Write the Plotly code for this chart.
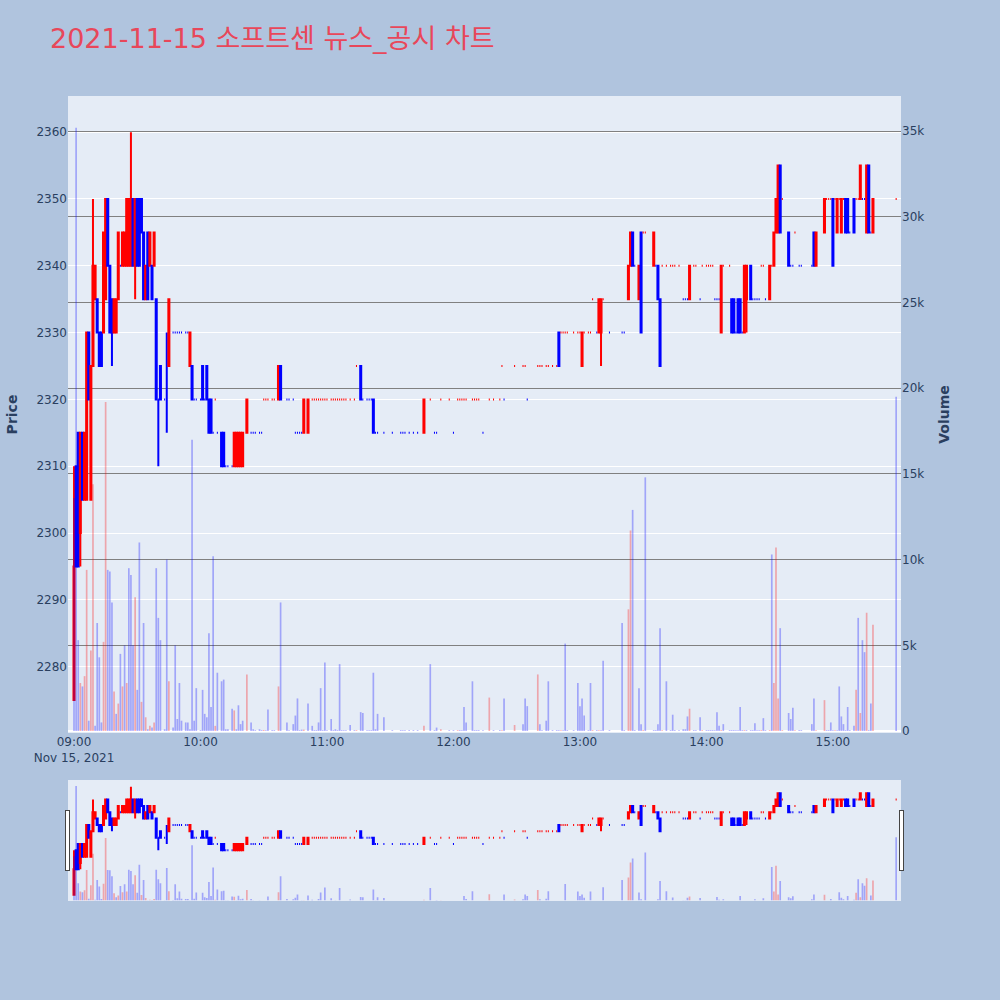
import plotly.graph_objects as go
from plotly.subplots import make_subplots

DAY = "2021-11-15"

# one-minute bars for the session (minutes without trades are omitted)
times = [
    "09:00", "09:01", "09:02", "09:03", "09:04", "09:05", "09:06", "09:07", "09:08", "09:09",
    "09:10", "09:11", "09:12", "09:13", "09:14", "09:15", "09:16", "09:17", "09:18", "09:19",
    "09:20", "09:21", "09:22", "09:23", "09:24", "09:25", "09:26", "09:27", "09:28", "09:29",
    "09:30", "09:31", "09:32", "09:33", "09:34", "09:35", "09:36", "09:37", "09:38", "09:39",
    "09:40", "09:41", "09:43", "09:44", "09:45", "09:47", "09:48", "09:49", "09:50", "09:51",
    "09:53", "09:54", "09:55", "09:56", "09:57", "09:58", "10:00", "10:01", "10:02", "10:03",
    "10:04", "10:05", "10:06", "10:07", "10:08", "10:10", "10:11", "10:12", "10:13", "10:15",
    "10:16", "10:17", "10:18", "10:19", "10:20", "10:22", "10:24", "10:25", "10:26", "10:28",
    "10:29", "10:30", "10:31", "10:32", "10:34", "10:35", "10:37", "10:38", "10:41", "10:42",
    "10:44", "10:45", "10:46", "10:47", "10:48", "10:49", "10:51", "10:53", "10:54", "10:55",
    "10:56", "10:57", "10:58", "10:59", "11:00", "11:02", "11:03", "11:04", "11:05", "11:06",
    "11:07", "11:08", "11:09", "11:11", "11:13", "11:14", "11:16", "11:17", "11:19", "11:20",
    "11:21", "11:22", "11:23", "11:24", "11:27", "11:31", "11:35", "11:36", "11:37", "11:39",
    "11:41", "11:43", "11:46", "11:49", "11:51", "11:52", "11:54", "11:58", "12:00", "12:02",
    "12:03", "12:04", "12:05", "12:06", "12:09", "12:10", "12:11", "12:12", "12:14", "12:17",
    "12:19", "12:22", "12:23", "12:24", "12:29", "12:33", "12:34", "12:35", "12:40", "12:41",
    "12:42", "12:44", "12:45", "12:47", "12:49", "12:50", "12:51", "12:52", "12:53", "12:54",
    "12:57", "12:59", "13:00", "13:01", "13:02", "13:04", "13:05", "13:06", "13:08", "13:09",
    "13:10", "13:11", "13:14", "13:20", "13:21", "13:23", "13:24", "13:25", "13:26", "13:28",
    "13:29", "13:30", "13:31", "13:35", "13:36", "13:37", "13:38", "13:39", "13:41", "13:43",
    "13:44", "13:45", "13:47", "13:49", "13:50", "13:51", "13:52", "13:54", "13:55", "13:57",
    "13:58", "14:00", "14:01", "14:02", "14:03", "14:04", "14:05", "14:06", "14:07", "14:08",
    "14:11", "14:12", "14:13", "14:14", "14:15", "14:16", "14:17", "14:18", "14:19", "14:21",
    "14:22", "14:23", "14:24", "14:25", "14:26", "14:27", "14:28", "14:30", "14:31", "14:32",
    "14:33", "14:34", "14:35", "14:36", "14:39", "14:40", "14:41", "14:42", "14:44", "14:45",
    "14:50", "14:51", "14:52", "14:56", "14:57", "14:58", "14:59", "15:00", "15:01", "15:02",
    "15:03", "15:04", "15:05", "15:06", "15:07", "15:08", "15:10", "15:11", "15:12", "15:13",
    "15:14", "15:15", "15:16", "15:17", "15:18", "15:19", "15:30",
]

opens = [
    2275, 2310, 2315, 2300, 2315, 2305, 2305, 2330, 2305, 2325,
    2335, 2335, 2330, 2330, 2330, 2335, 2350, 2340, 2335, 2330,
    2330, 2335, 2340, 2340, 2340, 2340, 2340, 2340, 2350, 2340,
    2350, 2350, 2350, 2345, 2335, 2345, 2340, 2340, 2340, 2335,
    2320, 2325, 2320, 2320, 2325, 2330, 2330, 2330, 2330, 2330,
    2330, 2330, 2325, 2325, 2320, 2320, 2320, 2325, 2320, 2325,
    2320, 2320, 2315, 2320, 2315, 2315, 2315, 2310, 2310, 2310,
    2310, 2310, 2310, 2310, 2310, 2315, 2315, 2315, 2315, 2315,
    2315, 2320, 2320, 2320, 2320, 2320, 2320, 2325, 2320, 2320,
    2320, 2315, 2315, 2315, 2315, 2315, 2315, 2320, 2320, 2320,
    2320, 2320, 2320, 2320, 2320, 2320, 2320, 2320, 2320, 2320,
    2320, 2320, 2320, 2320, 2320, 2325, 2325, 2320, 2320, 2320,
    2320, 2320, 2315, 2315, 2315, 2315, 2315, 2315, 2315, 2315,
    2315, 2315, 2315, 2320, 2315, 2315, 2320, 2320, 2315, 2320,
    2320, 2320, 2320, 2320, 2320, 2320, 2320, 2320, 2315, 2320,
    2320, 2320, 2325, 2320, 2325, 2325, 2325, 2320, 2325, 2325,
    2325, 2325, 2325, 2325, 2325, 2330, 2330, 2330, 2330, 2330,
    2330, 2330, 2330, 2325, 2330, 2330, 2330, 2335, 2330, 2330,
    2330, 2335, 2330, 2330, 2330, 2335, 2340, 2345, 2340, 2335,
    2345, 2345, 2345, 2340, 2340, 2340, 2335, 2340, 2340, 2340,
    2340, 2340, 2340, 2335, 2335, 2335, 2335, 2340, 2340, 2335,
    2340, 2340, 2340, 2340, 2340, 2335, 2335, 2335, 2330, 2340,
    2340, 2335, 2335, 2330, 2335, 2335, 2330, 2330, 2335, 2340,
    2335, 2335, 2335, 2335, 2340, 2340, 2335, 2335, 2340, 2340,
    2345, 2345, 2355, 2350, 2345, 2340, 2340, 2345, 2340, 2340,
    2340, 2345, 2340, 2345, 2350, 2350, 2350, 2350, 2350, 2345,
    2350, 2345, 2350, 2350, 2350, 2345, 2350, 2350, 2350, 2350,
    2350, 2350, 2345, 2355, 2345, 2345, 2350,
]

highs = [
    2310, 2310, 2315, 2315, 2315, 2315, 2330, 2330, 2325, 2350,
    2340, 2335, 2330, 2330, 2345, 2350, 2350, 2340, 2335, 2335,
    2335, 2345, 2340, 2345, 2345, 2350, 2350, 2360, 2350, 2350,
    2350, 2350, 2350, 2345, 2340, 2345, 2345, 2340, 2345, 2335,
    2320, 2325, 2320, 2330, 2335, 2330, 2330, 2330, 2330, 2330,
    2330, 2330, 2330, 2325, 2320, 2320, 2320, 2325, 2320, 2325,
    2320, 2320, 2315, 2320, 2315, 2315, 2315, 2310, 2310, 2310,
    2315, 2315, 2315, 2315, 2315, 2320, 2315, 2315, 2315, 2315,
    2315, 2320, 2320, 2320, 2320, 2320, 2325, 2325, 2320, 2320,
    2320, 2315, 2315, 2315, 2315, 2320, 2320, 2320, 2320, 2320,
    2320, 2320, 2320, 2320, 2320, 2320, 2320, 2320, 2320, 2320,
    2320, 2320, 2320, 2320, 2320, 2325, 2325, 2320, 2320, 2320,
    2320, 2320, 2315, 2315, 2315, 2315, 2315, 2315, 2315, 2315,
    2315, 2315, 2320, 2320, 2315, 2315, 2320, 2320, 2315, 2320,
    2320, 2320, 2320, 2320, 2320, 2320, 2320, 2320, 2315, 2320,
    2320, 2320, 2325, 2320, 2325, 2325, 2325, 2320, 2325, 2325,
    2325, 2325, 2325, 2325, 2325, 2330, 2330, 2330, 2330, 2330,
    2330, 2330, 2330, 2330, 2330, 2330, 2330, 2335, 2330, 2335,
    2335, 2335, 2330, 2330, 2330, 2340, 2345, 2345, 2340, 2340,
    2345, 2345, 2345, 2345, 2340, 2340, 2335, 2340, 2340, 2340,
    2340, 2340, 2340, 2335, 2335, 2335, 2340, 2340, 2340, 2335,
    2340, 2340, 2340, 2340, 2340, 2335, 2335, 2335, 2340, 2340,
    2340, 2335, 2335, 2330, 2335, 2335, 2330, 2340, 2340, 2340,
    2335, 2335, 2335, 2335, 2340, 2340, 2335, 2340, 2340, 2345,
    2350, 2355, 2355, 2350, 2345, 2340, 2340, 2345, 2340, 2340,
    2340, 2345, 2345, 2350, 2350, 2350, 2350, 2350, 2350, 2350,
    2350, 2350, 2350, 2350, 2350, 2345, 2350, 2350, 2350, 2355,
    2350, 2350, 2355, 2355, 2345, 2350, 2350,
]

lows = [
    2275, 2295, 2295, 2295, 2305, 2305, 2305, 2320, 2305, 2325,
    2335, 2330, 2325, 2325, 2330, 2335, 2340, 2330, 2325, 2330,
    2330, 2335, 2340, 2340, 2340, 2340, 2340, 2340, 2340, 2335,
    2340, 2340, 2345, 2335, 2335, 2335, 2340, 2335, 2340, 2320,
    2310, 2320, 2320, 2315, 2325, 2330, 2330, 2330, 2330, 2330,
    2330, 2330, 2325, 2320, 2320, 2320, 2320, 2320, 2320, 2320,
    2315, 2315, 2315, 2320, 2315, 2310, 2310, 2310, 2310, 2310,
    2310, 2310, 2310, 2310, 2310, 2315, 2315, 2315, 2315, 2315,
    2315, 2320, 2320, 2320, 2320, 2320, 2320, 2320, 2320, 2320,
    2320, 2315, 2315, 2315, 2315, 2315, 2315, 2320, 2320, 2320,
    2320, 2320, 2320, 2320, 2320, 2320, 2320, 2320, 2320, 2320,
    2320, 2320, 2320, 2320, 2320, 2325, 2320, 2320, 2320, 2320,
    2320, 2315, 2315, 2315, 2315, 2315, 2315, 2315, 2315, 2315,
    2315, 2315, 2315, 2320, 2315, 2315, 2320, 2320, 2315, 2320,
    2320, 2320, 2320, 2320, 2320, 2320, 2320, 2320, 2315, 2320,
    2320, 2320, 2325, 2320, 2325, 2325, 2325, 2320, 2325, 2325,
    2325, 2325, 2325, 2325, 2325, 2325, 2330, 2330, 2330, 2330,
    2330, 2330, 2330, 2325, 2330, 2330, 2330, 2335, 2330, 2330,
    2325, 2335, 2330, 2330, 2330, 2335, 2340, 2340, 2340, 2335,
    2330, 2345, 2345, 2340, 2340, 2335, 2325, 2340, 2340, 2340,
    2340, 2340, 2340, 2335, 2335, 2335, 2335, 2340, 2340, 2335,
    2340, 2340, 2340, 2340, 2340, 2335, 2335, 2335, 2330, 2340,
    2340, 2330, 2330, 2330, 2330, 2330, 2330, 2330, 2330, 2335,
    2335, 2335, 2335, 2335, 2340, 2340, 2335, 2335, 2340, 2340,
    2345, 2345, 2345, 2350, 2340, 2340, 2340, 2345, 2340, 2340,
    2340, 2340, 2340, 2345, 2350, 2350, 2350, 2340, 2350, 2345,
    2350, 2345, 2350, 2345, 2345, 2345, 2345, 2350, 2350, 2350,
    2350, 2350, 2345, 2345, 2345, 2345, 2350,
]

closes = [
    2295, 2295, 2295, 2315, 2305, 2315, 2330, 2320, 2325, 2340,
    2340, 2330, 2325, 2325, 2345, 2350, 2340, 2330, 2330, 2335,
    2335, 2345, 2340, 2345, 2345, 2350, 2350, 2350, 2340, 2350,
    2340, 2340, 2345, 2335, 2340, 2335, 2345, 2335, 2345, 2320,
    2320, 2320, 2320, 2320, 2335, 2330, 2330, 2330, 2330, 2330,
    2330, 2330, 2330, 2320, 2320, 2320, 2320, 2320, 2320, 2320,
    2315, 2315, 2315, 2320, 2315, 2310, 2310, 2310, 2310, 2310,
    2315, 2315, 2315, 2315, 2315, 2320, 2315, 2315, 2315, 2315,
    2315, 2320, 2320, 2320, 2320, 2320, 2325, 2320, 2320, 2320,
    2320, 2315, 2315, 2315, 2315, 2320, 2320, 2320, 2320, 2320,
    2320, 2320, 2320, 2320, 2320, 2320, 2320, 2320, 2320, 2320,
    2320, 2320, 2320, 2320, 2320, 2325, 2320, 2320, 2320, 2320,
    2320, 2315, 2315, 2315, 2315, 2315, 2315, 2315, 2315, 2315,
    2315, 2315, 2320, 2320, 2315, 2315, 2320, 2320, 2315, 2320,
    2320, 2320, 2320, 2320, 2320, 2320, 2320, 2320, 2315, 2320,
    2320, 2320, 2325, 2320, 2325, 2325, 2325, 2320, 2325, 2325,
    2325, 2325, 2325, 2325, 2325, 2325, 2330, 2330, 2330, 2330,
    2330, 2330, 2330, 2330, 2330, 2330, 2330, 2335, 2330, 2335,
    2335, 2335, 2330, 2330, 2330, 2340, 2345, 2340, 2340, 2340,
    2330, 2345, 2345, 2345, 2340, 2335, 2325, 2340, 2340, 2340,
    2340, 2340, 2340, 2335, 2335, 2335, 2340, 2340, 2340, 2335,
    2340, 2340, 2340, 2340, 2340, 2335, 2335, 2335, 2340, 2340,
    2340, 2330, 2330, 2330, 2330, 2330, 2330, 2340, 2340, 2335,
    2335, 2335, 2335, 2335, 2340, 2340, 2335, 2340, 2340, 2345,
    2350, 2355, 2345, 2350, 2340, 2340, 2340, 2345, 2340, 2340,
    2340, 2340, 2345, 2350, 2350, 2350, 2350, 2340, 2350, 2350,
    2350, 2350, 2350, 2345, 2345, 2345, 2345, 2350, 2350, 2355,
    2350, 2350, 2355, 2345, 2345, 2350, 2350,
]

volumes = [
    13600, 35200, 5300, 2800, 2600, 3200, 9400, 600, 4700, 14400,
    300, 6300, 4300, 500, 5200, 19200, 9400, 9300, 7500, 2300,
    1000, 1600, 4500, 2600, 5000, 2800, 9500, 9100, 5000, 7800,
    2400, 11000, 1700, 6300, 800, 100, 300, 200, 500, 9500,
    6600, 5300, 100, 10000, 2900, 200, 5000, 700, 2800, 600,
    500, 500, 100, 17000, 600, 2500, 50, 2400, 1000, 800,
    5700, 1400, 10200, 300, 3400, 2900, 3000, 100, 100, 1300,
    1200, 100, 1500, 400, 600, 3300, 500, 100, 50, 100,
    50, 60, 50, 1250, 50, 50, 2600, 7500, 500, 50,
    400, 900, 1900, 50, 80, 80, 1600, 300, 50, 50,
    500, 2500, 50, 4000, 50, 700, 50, 100, 50, 3900,
    50, 50, 50, 350, 50, 50, 1100, 1050, 50, 50,
    50, 3400, 100, 1000, 800, 50, 50, 50, 50, 50,
    50, 50, 300, 3900, 50, 200, 100, 50, 50, 50,
    50, 50, 1400, 500, 2900, 50, 50, 50, 50, 1950,
    50, 50, 50, 1900, 350, 400, 1900, 1450, 3300, 400,
    50, 600, 2900, 50, 50, 50, 50, 50, 5100, 50,
    50, 2800, 1450, 1900, 900, 50, 2800, 50, 50, 50,
    50, 4100, 50, 6300, 50, 7100, 11700, 12900, 50, 2500,
    400, 50, 14800, 50, 50, 400, 6000, 50, 2900, 50,
    950, 50, 50, 100, 100, 850, 1300, 50, 50, 800,
    50, 50, 50, 50, 50, 50, 1100, 300, 50, 400,
    50, 50, 50, 50, 50, 1400, 50, 50, 50, 50,
    50, 450, 50, 50, 50, 750, 50, 50, 10300, 2800,
    10700, 1900, 6000, 50, 1050, 700, 1350, 50, 50, 50,
    400, 1900, 50, 1800, 50, 50, 500, 50, 50, 50,
    2600, 850, 400, 50, 1400, 50, 300, 2400, 6600, 1050,
    5300, 4600, 6900, 50, 1600, 6200, 19500,
]

x = [f"{DAY} {t}" for t in times]

# volume bar tint: red when the close is above the previous minute's close
vol_colors = []
prev_close = None
for c in closes:
    rising = prev_close is not None and c > prev_close
    vol_colors.append("rgba(255,0,0,0.3)" if rising else "rgba(0,0,255,0.3)")
    prev_close = c

fig = make_subplots(specs=[[{"secondary_y": True}]])

fig.add_trace(
    go.Candlestick(
        x=x, open=opens, high=highs, low=lows, close=closes,
        increasing=dict(line=dict(color="red"), fillcolor="red"),
        decreasing=dict(line=dict(color="blue"), fillcolor="blue"),
        name="Price",
    ),
    secondary_y=False,
)

fig.add_trace(
    go.Bar(
        x=x, y=volumes,
        marker=dict(color=vol_colors, line=dict(width=0)),
        name="Volume",
    ),
    secondary_y=True,
)

x_range = [f"{DAY} 08:57:09", f"{DAY} 15:32:18"]

fig.update_layout(
    width=1000,
    height=1000,
    paper_bgcolor="lightsteelblue",
    showlegend=False,
    font=dict(family="DejaVu Sans, Noto Sans CJK KR, sans-serif", size=12),
    margin=dict(l=68, r=99, t=96, b=100),
    title=dict(
        text="2021-11-15 소프트센 뉴스_공시 차트",
        font=dict(size=27, color="#E8475A"),
        x=0.05,
    ),
    xaxis=dict(
        domain=[0, 1],
        range=x_range,
        rangeslider=dict(visible=True, range=x_range),
    ),
)

fig.update_yaxes(
    title=dict(text="<b>Price</b>", font=dict(size=14)),
    range=[2270.08, 2365.41],
    automargin=False,
    secondary_y=False,
)
fig.update_yaxes(
    title=dict(text="<b>Volume</b>", font=dict(size=14)),
    range=[-117, 37050],
    gridcolor="gray",
    automargin=False,
    secondary_y=True,
)

fig.write_html("out.html")
